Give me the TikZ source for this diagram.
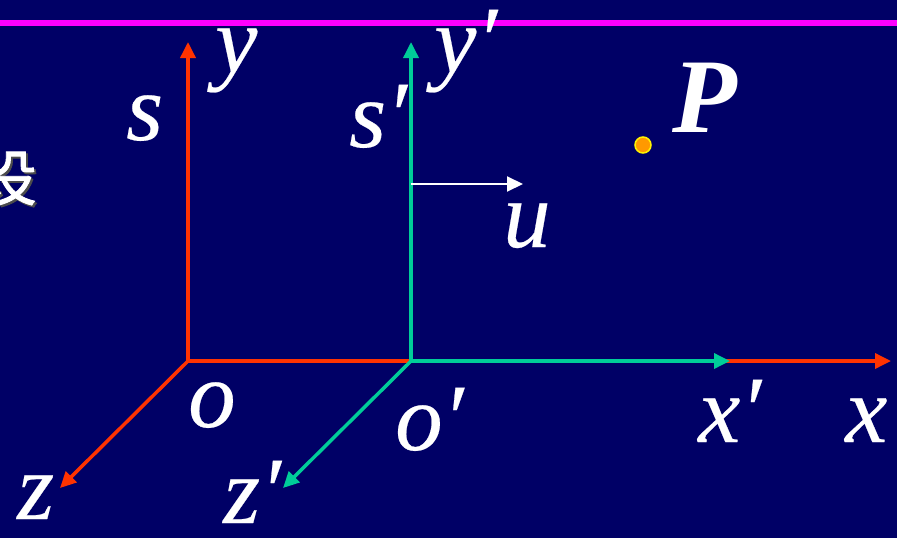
\documentclass[tikz,border=0pt]{standalone}
\usepackage{fontspec}
\setmainfont{Liberation Serif}
\newfontfamily\lbfont{Liberation Serif}[FakeBold=0.25]
\newfontfamily\cjk{Noto Sans CJK SC}[FakeBold=1.5]
\usetikzlibrary{arrows.meta}
\definecolor{BgNavy}{RGB}{0,0,102}
\definecolor{AxRed}{HTML}{FF3300}
\definecolor{AxGreen}{HTML}{00CC99}
\definecolor{LineMag}{HTML}{FF00FF}
\definecolor{DotOrange}{HTML}{FF9900}

\begin{document}
\begin{tikzpicture}[x=1pt,y=-1pt,
  ax/.style={line width=3.5pt,{Triangle[length=16pt,width=15pt]}-{Triangle[length=16pt,width=15pt]}},
  az/.style={line width=3.5pt,-{Triangle[length=16pt,width=15pt]}},
  lb/.style={text=white,font=\lbfont\fontsize{95}{95}\selectfont\itshape,inner sep=0pt,anchor=base west}]
\fill[BgNavy] (0,0) rectangle (897,538);
\useasboundingbox (0,0) rectangle (897,538);
\draw[LineMag,line width=6pt] (0,23) -- (897,23);
% frame S
\coordinate (o) at (188,361);
\coordinate (yt) at (188,42);
\coordinate (xt) at (891,361);
\coordinate (zt) at (60,488);
% frame S'
\coordinate (o2) at (411,361);
\coordinate (y2t) at (411,42);
\coordinate (x2t) at (730,361);
\coordinate (z2t) at (283,488);
\coordinate (ua) at (411,184);
\coordinate (ub) at (523,184);
\draw[ax,AxRed] (yt) -- (o) -- (xt);
\draw[az,AxRed] (o) -- (zt);
\draw[ax,AxGreen] (y2t) -- (o2) -- (x2t);
\draw[az,AxGreen] (o2) -- (z2t);
\draw[white,line width=2pt,-{Triangle[length=16pt,width=15pt]}] (ua) -- (ub);
\node[circle,fill=DotOrange,draw=yellow,line width=1.5pt,minimum size=16pt,inner sep=0pt] (pt) at (643,145) {};
% labels
\node[lb] (ly) at (215,72) {y};
\node[lb] (ls) at (126,140) {s};
\node[lb] (ls2) at (349,147) {s′};
\node[lb] (ly2) at (434,72) {y′};
\node[lb] (lu) at (503,247) {u};
\node[lb,font=\fontsize{106}{106}\selectfont\bfseries\itshape] (lp) at (672,132) {P};
\node[lb] (lo) at (188,427) {o};
\node[lb] (lo2) at (395,450) {o′};
\node[lb] (lx2) at (698,442) {x′};
\node[lb] (lx) at (845,442) {x};
\node[lb] (lz) at (17,519) {z};
\node[lb] (lz2) at (223,523) {z′};
\node[text=black!70,font=\cjk\fontsize{60}{60}\selectfont,anchor=east,inner sep=0pt] at (39,180) {设};
\node[text=white,font=\cjk\fontsize{60}{60}\selectfont,anchor=east,inner sep=0pt] (she) at (37,178) {设};
\end{tikzpicture}
\end{document}
